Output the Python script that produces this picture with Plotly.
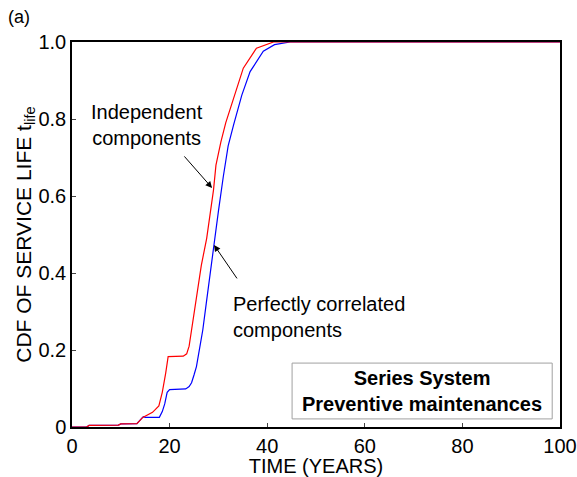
import plotly.graph_objects as go

# Service-life CDF, series system with preventive maintenance
t_indep = [0, 3, 3.5, 9.5, 10, 13.3, 14.5, 15.3, 16.5, 17.8, 18.5, 19.2, 19.7, 22.8, 23.5,
           24.0, 24.5, 25.5, 26.5, 27.6, 28.3, 29.0, 29.5, 30.5, 31.5, 33.4, 35.1, 37.8,
           41.3, 100]
cdf_indep = [0, 0, 0.004, 0.005, 0.008, 0.009, 0.025, 0.03, 0.038, 0.055, 0.09, 0.14, 0.183,
             0.184, 0.19, 0.21, 0.25, 0.33, 0.42, 0.49, 0.55, 0.616, 0.68, 0.74, 0.79, 0.862,
             0.932, 0.984, 1.0, 1.0]

t_corr = [0, 3, 3.5, 9.5, 10, 13.3, 14.6, 15.0, 17.9, 18.5, 19.0, 19.5, 20.0, 23.3, 24.0,
          24.5, 25.0, 25.5, 26.2, 26.8, 27.5, 28.3, 29.0, 29.3, 30.0, 31.0, 32.0, 33.1, 34.8,
          36.5, 39.2, 41.5, 44.7, 100]
cdf_corr = [0, 0, 0.004, 0.005, 0.008, 0.009, 0.027, 0.025, 0.025, 0.04, 0.06, 0.09, 0.097,
            0.099, 0.105, 0.115, 0.135, 0.157, 0.208, 0.252, 0.32, 0.40, 0.46, 0.49, 0.56,
            0.65, 0.73, 0.784, 0.862, 0.923, 0.976, 0.993, 1.0, 1.0]

x_ticks = [0, 20, 40, 60, 80, 100]
y_ticks = [0, 0.2, 0.4, 0.6, 0.8, 1.0]
y_tick_text = ["0", "0.2", "0.4", "0.6", "0.8", "1.0"]

FONT = "Liberation Sans, Arial, sans-serif"
FS = 20

fig = go.Figure()
fig.add_trace(go.Scatter(x=t_corr, y=cdf_corr, mode="lines",
                         line=dict(color="#0000ff", width=1.2), showlegend=False))
fig.add_trace(go.Scatter(x=t_indep, y=cdf_indep, mode="lines",
                         line=dict(color="#ff0000", width=1.2), showlegend=False))

fig.update_layout(
    width=577, height=477,
    margin=dict(l=72, r=17, t=42, b=50),
    paper_bgcolor="white", plot_bgcolor="white",
    font=dict(family=FONT, size=FS, color="black"),
    xaxis=dict(range=[0, 100], tickvals=x_ticks, ticks="inside", ticklen=4,
               showline=True, linecolor="black", linewidth=1.5, mirror=True,
               showgrid=False, zeroline=False, automargin=False,
               tickfont=dict(size=FS),
               title=dict(text="TIME (YEARS)", standoff=4, font=dict(size=FS))),
    yaxis=dict(range=[0, 1], tickvals=y_ticks, ticktext=y_tick_text, ticks="inside",
               ticklen=4, showline=True, linecolor="black", linewidth=1.5, mirror=True,
               showgrid=False, zeroline=False, automargin=False,
               tickfont=dict(size=FS),
               title=dict(text="CDF OF SERVICE LIFE t<sub>life</sub>", standoff=1,
                          font=dict(size=21))),
)

# panel label
fig.add_annotation(x=0, y=1, xref="paper", yref="paper", xanchor="left", yanchor="top",
                   xshift=-66, yshift=37, text="(a)", showarrow=False,
                   font=dict(size=18))

# curve labels
fig.add_annotation(x=15.4, y=0.785, xref="x", yref="y",
                   text="Independent<br>components", showarrow=False,
                   font=dict(size=FS), align="center")
fig.add_annotation(x=32.6, y=0.285, xref="x", yref="y", xanchor="left", yanchor="middle",
                   text="Perfectly correlated<br>components", showarrow=False,
                   font=dict(size=FS), align="left")

# arrows pointing at each curve
fig.add_annotation(x=28.7, y=0.621, xref="x", yref="y", text="", showarrow=True,
                   arrowhead=2, arrowsize=1.3, arrowwidth=1, arrowcolor="black",
                   ax=-29, ay=-33, standoff=0)
fig.add_annotation(x=29.1, y=0.473, xref="x", yref="y", text="", showarrow=True,
                   arrowhead=2, arrowsize=1.3, arrowwidth=1, arrowcolor="black",
                   ax=24, ay=35, standoff=0)

# system description box
fig.add_shape(type="rect", xref="x", yref="y", x0=45.1, x1=98.4, y0=0.021, y1=0.166,
              line=dict(color="#a0a0a0", width=1), fillcolor="white", layer="above")
fig.add_annotation(x=71.75, y=0.0935, xref="x", yref="y",
                   text="<b>Series System</b><br><b>Preventive maintenances</b>",
                   showarrow=False, font=dict(size=FS), align="center")

fig.write_html("out.html")
